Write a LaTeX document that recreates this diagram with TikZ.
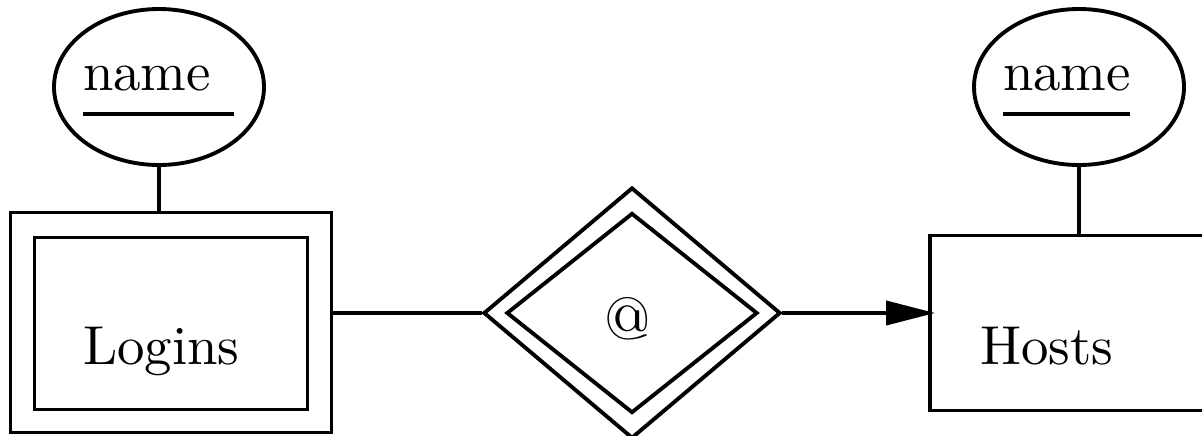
\documentclass[tikz,border=0pt]{standalone}
\usetikzlibrary{shapes.geometric,arrows.meta}

\begin{document}
\begin{tikzpicture}[
    line width=1.1pt,
    attr/.style={draw, ellipse, inner sep=0pt, minimum width=2.1cm, minimum height=1.56cm},
    ent/.style={draw, rectangle, inner sep=0pt},
    rel/.style={draw, diamond, inner sep=0pt},
    lbl/.style={inner sep=0pt, scale=1.56, font=\fontsize{10}{12}\selectfont}
  ]
        \useasboundingbox (0,0) rectangle (12.02,4.35);
        \clip (0,0) rectangle (12.02,4.35);

        % Logins (weak entity)
        \node[ent, minimum width=3.21cm, minimum height=2.20cm] (loginsout) at (1.71,1.125) {};
        \node[ent, minimum width=2.73cm, minimum height=1.72cm] (logins) at (1.71,1.115) {};
        \node[lbl, anchor=base west] (logintxt) at (0.80,0.71) {Logins};

        % key attribute of Logins
        \node[attr] (lname) at (1.59,3.48) {};
        \node[lbl, anchor=base west] (lnametxt) at (0.80,3.45) {name};
        \draw (0.83,3.21) -- (2.34,3.21);
        \draw (lname.south) -- (lname.south |- loginsout.north);

        % @ (weak relationship)
        \node[rel, minimum width=2.97cm, minimum height=2.51cm] (atout) at (6.32,1.22) {};
        \node[rel, minimum width=2.51cm, minimum height=2.00cm] (at) at (6.32,1.22) {};
        \node[inner sep=0pt, scale=1.7, font=\fontsize{10}{12}\selectfont] (attxt) at (6.28,1.16) {@};

        % Hosts
        \node[ent, minimum width=2.74cm, minimum height=1.75cm] (hosts) at (10.67,1.12) {};
        \node[lbl, anchor=base west] (hoststxt) at (9.77,0.71) {Hosts};

        % key attribute of Hosts
        \node[attr] (hname) at (10.79,3.48) {};
        \node[lbl, anchor=base west] (hnametxt) at (10.00,3.45) {name};
        \draw (10.03,3.21) -- (11.30,3.21);
        \draw (hname.south) -- (hname.south |- hosts.north);

        % connectors
        \draw (loginsout.east |- atout.west) -- (atout.west);
        \draw[-{Triangle[length=4.9mm,width=2.4mm]}, shorten >=-0.07cm] (atout.east) -- (hosts.west |- atout.east);
    \end{tikzpicture}
\end{document}
